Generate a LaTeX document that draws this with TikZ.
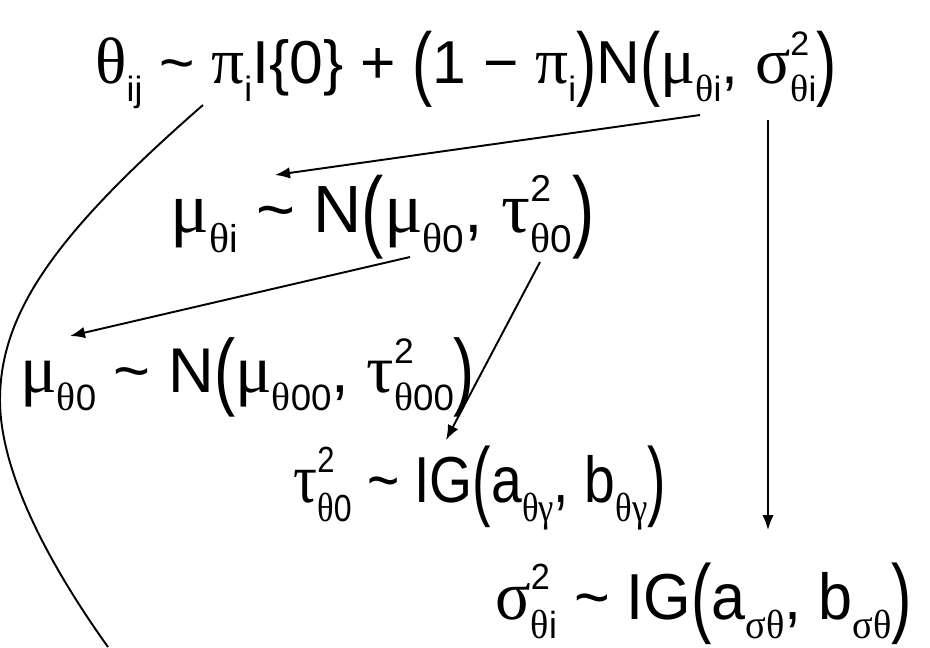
\documentclass[tikz,border=0pt]{standalone}
\usepackage{fontspec}
\setmainfont{Liberation Sans}
\newfontfamily\grk{Liberation Serif}[Scale=1.08]
\usetikzlibrary{calc,arrows.meta}
% sub- and superscripts, brackets
\newcommand{\lo}[1]{\raisebox{-0.3em}{\scalebox{0.58}{#1}}}
\newcommand{\hilo}[2]{\rlap{\raisebox{0.45em}{\scalebox{0.56}{#1}}}\raisebox{-0.3em}{\scalebox{0.58}{#2}}}
\newcommand{\lp}{\raisebox{-0.12em}{\scalebox{1}[1.35]{(}}}
\newcommand{\rp}{\raisebox{-0.12em}{\scalebox{1}[1.35]{)}}}
\newcommand{\gth}{{\grk θ}}
\newcommand{\gpi}{{\grk π}}
\newcommand{\gmu}{{\grk μ}}
\newcommand{\gsig}{{\grk σ}}
\newcommand{\gtau}{{\grk τ}}
\newcommand{\ggam}{{\grk γ}}
\newcommand{\dist}{ \textasciitilde{} }
\tikzset{
  eq/.style={anchor=base west,inner sep=0pt,font=\fontsize{#1}{#1}\selectfont},
  eq/.default=37,
  arr/.style={-{Latex[length=3mm,width=2.3mm]},line width=1.1pt}
}

\begin{document}
\begin{tikzpicture}[x=0.02cm,y=-0.02cm]
  \useasboundingbox (0,0) rectangle (930,647);
  % the five formulas
  \node[eq=34.5] (l1) at (95,83) {\gth\lo{ij}\dist\gpi\lo{i}I\{0\} + \lp1 − \gpi\lo{i}\rp N\lp\gmu\lo{\gth i}, \gsig\hilo{2}{\gth i}\rp};
  \node[eq=38] (l2) at (170,232) {\gmu\lo{\gth i}\dist N\lp\gmu\lo{\gth 0}, \gtau\hilo{2}{\gth 0}\rp};
  \node[eq=36] (l3) at (20,392) {\gmu\lo{\gth 0}\dist N\lp\gmu\lo{\gth 00}, \gtau\hilo{2}{\gth 00}\rp};
  \node[eq,xscale=0.85,transform shape] (l4) at (293,502) {\gtau\hilo{2}{\gth 0}\dist IG\lp a\lo{\gth\ggam}, b\lo{\gth\ggam}\rp};
  \node[eq,xscale=0.94,transform shape] (l5) at (495,619) {\gsig\hilo{2}{\gth i}\dist IG\lp a\lo{\gsig\gth}, b\lo{\gsig\gth}\rp};
  % links
  \coordinate (c1) at (108,647);
  \draw[arr] ($(l1.base west)+(605,32)$) -- ($(l2.base west)+(105,-57)$);
  \draw[arr] ($(l2.base west)+(240,25)$) -- ($(l3.base west)+(50,-56)$);
  \draw[arr] ($(l2.base west)+(370,30)$) -- ($(l4.base west)+(153,-62)$);
  \draw[arr] ($(l1.base west)+(673,37)$) -- ($(l5.base west)+(273,-89)$);
  \draw[line width=1.1pt] ($(l1.base west)+(108,22)$) .. controls (60,230) and (0,310) .. (0,400)
    .. controls (0,480) and (60,580) .. (c1);
\end{tikzpicture}
\end{document}
